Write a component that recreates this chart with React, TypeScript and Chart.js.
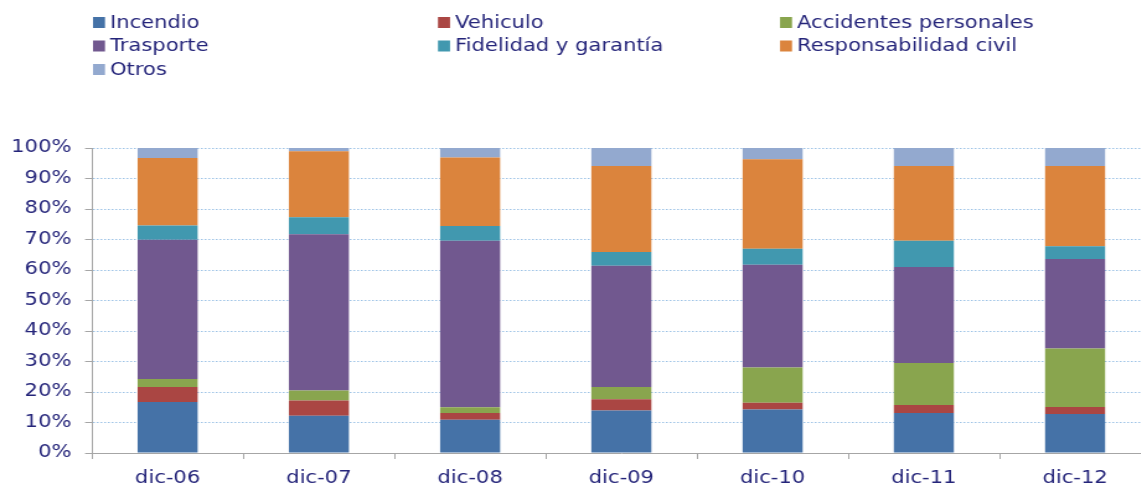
import React, { useEffect, useRef } from 'react';
import { Chart, registerables } from 'chart.js';

Chart.register(...registerables);

// ---- data ----
const categories = ['dic-06', 'dic-07', 'dic-08', 'dic-09', 'dic-10', 'dic-11', 'dic-12'];
const seriesNames = [
  'Incendio',
  'Vehiculo',
  'Accidentes personales',
  'Trasporte',
  'Fidelidad y garantía',
  'Responsabilidad civil',
  'Otros',
];
const incendio = [16.7, 12.2, 10.9, 13.9, 14.3, 13.1, 12.8];
const vehiculo = [4.9, 5.0, 2.2, 3.7, 2.2, 2.6, 2.3];
const accidentes = [2.7, 3.3, 1.9, 4.0, 11.5, 13.8, 19.2];
const trasporte = [45.6, 51.2, 54.6, 39.8, 33.7, 31.5, 29.3];
const fidelidad = [4.7, 5.6, 4.8, 4.5, 5.3, 8.6, 4.2];
const responsabilidad = [22.1, 21.6, 22.5, 28.2, 29.3, 24.5, 26.3];
const otros = [3.3, 1.1, 3.1, 5.9, 3.7, 5.9, 5.9];
const yTickValues = [0, 10, 20, 30, 40, 50, 60, 70, 80, 90, 100];

// ---- styles ----
const seriesValues = [incendio, vehiculo, accidentes, trasporte, fidelidad, responsabilidad, otros];
const seriesColors = ['#4572A7', '#AA4643', '#89A54E', '#71588F', '#4198AF', '#DB843D', '#93A9CF'];
const TEXT_COLOR = '#25257A';
const FONT_FAMILY = '"DejaVu Sans", Verdana, sans-serif';
const FONT_SIZE = 17;
const STRETCH = 1.24; // horizontal stretch of the original picture
const LOGICAL_W = 928;
const HEIGHT = 485;
const AXIS_COLOR = '#A6A6A6';
const GRID_COLOR = '#9DC3E6';

const LEG_SQ_X = [93, 438, 780].map((v) => v / STRETCH);
const LEG_TXT_X = [110, 455, 797].map((v) => v / STRETCH);
const LEG_ROW_Y = [22.5, 46, 69.5];
const LEG_SQ_W = 12 / STRETCH;
const LEG_SQ_H = 11;

const gridLegend = {
  id: 'gridLegend',
  afterDraw(chart: any) {
    const ctx = chart.ctx;
    ctx.save();
    ctx.font = `${FONT_SIZE}px ${FONT_FAMILY}`;
    ctx.textBaseline = 'middle';
    ctx.textAlign = 'left';
    chart.data.datasets.forEach((ds: any, i: number) => {
      const col = i % 3;
      const row = Math.floor(i / 3);
      const y = LEG_ROW_Y[row];
      ctx.fillStyle = ds.backgroundColor;
      ctx.fillRect(LEG_SQ_X[col], y - LEG_SQ_H / 2, LEG_SQ_W, LEG_SQ_H);
      ctx.fillStyle = TEXT_COLOR;
      ctx.fillText(ds.label, LEG_TXT_X[col], y + 1);
    });
    ctx.restore();
  },
};

export default function App() {
  const canvasRef = useRef<HTMLCanvasElement | null>(null);

  useEffect(() => {
    const canvas = canvasRef.current;
    if (!canvas) return;
    const chart = new Chart(canvas, {
      type: 'bar',
      data: {
        labels: categories,
        datasets: seriesNames.map((name, i) => ({
          label: name,
          data: seriesValues[i],
          backgroundColor: seriesColors[i],
          borderWidth: 0,
          categoryPercentage: 1,
          barPercentage: 0.397,
        })),
      },
      options: {
        responsive: false,
        animation: false,
        devicePixelRatio: 1,
        layout: { padding: { top: 148, left: 0, right: 0, bottom: 0 } },
        plugins: {
          legend: { display: false },
          tooltip: { enabled: false },
          title: { display: false },
        },
        scales: {
          x: {
            stacked: true,
            offset: true,
            grid: {
              display: true,
              offset: true,
              drawOnChartArea: false,
              drawTicks: true,
              tickLength: 6,
              tickColor: AXIS_COLOR,
              color: AXIS_COLOR,
            },
            border: { display: true, color: AXIS_COLOR, width: 1 },
            ticks: {
              color: TEXT_COLOR,
              font: { family: FONT_FAMILY, size: FONT_SIZE },
              padding: 9,
              maxRotation: 0,
              autoSkip: false,
            },
            afterFit: (scale: any) => {
              scale.height = 32;
            },
          },
          y: {
            stacked: true,
            min: 0,
            max: 100,
            afterBuildTicks: (scale: any) => {
              scale.ticks = yTickValues.map((v) => ({ value: v }));
            },
            ticks: {
              color: TEXT_COLOR,
              font: { family: FONT_FAMILY, size: FONT_SIZE },
              padding: 11,
              callback: (v: any) => `${v}%`,
            },
            grid: {
              color: (c: any) => (c.tick && c.tick.value === 0 ? 'rgba(0,0,0,0)' : GRID_COLOR),
              lineWidth: 1,
              drawTicks: true,
              tickLength: 5.6,
              tickColor: AXIS_COLOR,
            },
            border: { display: true, color: AXIS_COLOR, width: 1, dash: [1.5, 1.5] },
            afterFit: (scale: any) => {
              scale.width = 74.2;
            },
          },
        },
      },
      plugins: [gridLegend],
    });
    return () => chart.destroy();
  }, []);

  return (
    <div
      style={{
        position: 'fixed',
        left: 0,
        top: 0,
        width: 1141,
        height: HEIGHT,
        overflow: 'hidden',
        background: '#ffffff',
      }}
    >
      <canvas
        ref={canvasRef}
        width={LOGICAL_W}
        height={HEIGHT}
        style={{
          display: 'block',
          width: `${LOGICAL_W}px`,
          height: `${HEIGHT}px`,
          transform: `scaleX(${STRETCH})`,
          transformOrigin: '0 0',
        }}
      />
    </div>
  );
}
